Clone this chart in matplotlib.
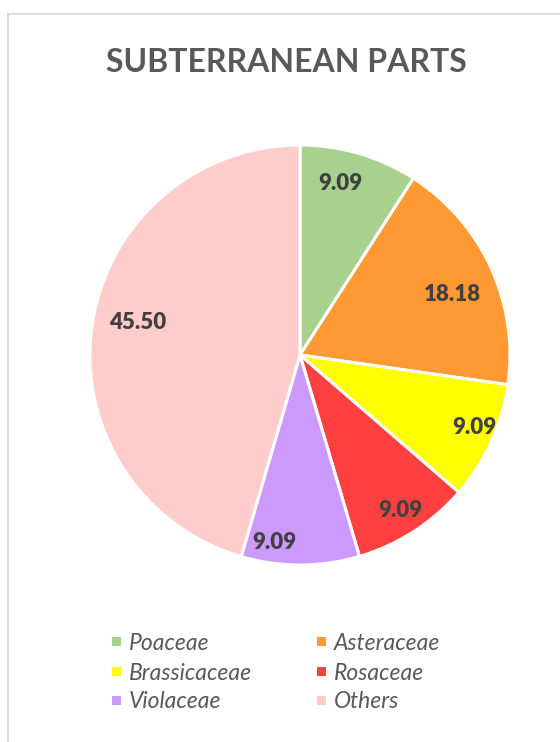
import matplotlib
matplotlib.use("Agg")
import matplotlib.pyplot as plt
from matplotlib.patches import Rectangle
from matplotlib.lines import Line2D
import numpy as np

categories = ["Poaceae", "Asteraceae", "Brassicaceae", "Rosaceae", "Violaceae", "Others"]
values = [9.09, 18.18, 9.09, 9.09, 9.09, 45.50]
value_labels = ["9.09", "18.18", "9.09", "9.09", "9.09", "45.50"]
colors = ["#A9D18E", "#FF9933", "#FFFF00", "#FF4040", "#CC99FF", "#FFCCCC"]
title = "SUBTERRANEAN PARTS"

# label radial positions (fraction of radius), styling only
label_r = [0.84, 0.78, 0.90, 0.88, 0.90, 0.79]
label_dang = [3, -3, 2, 0, -8, -3]

W, H = 560, 742
fig = plt.figure(figsize=(W / 100, H / 100), dpi=100)
fig.patch.set_facecolor("white")

# border (left and top visible)
border_c = "#D9D9D9"
fig.add_artist(Line2D([8 / W, 8 / W], [0, 1 - 13.5 / H], transform=fig.transFigure,
                      color=border_c, lw=1.3))
fig.add_artist(Line2D([8 / W, 1.0], [1 - 13.5 / H, 1 - 13.5 / H], transform=fig.transFigure,
                      color=border_c, lw=1.3))

# title
fig.text(286 / W, 1 - 72 / H, title, ha="center", va="baseline",
         fontsize=23, fontweight="bold", color="#595959", family=["Lato", "DejaVu Sans"])

# pie
cx, cy, R = 300, 355, 210
ax = fig.add_axes([(cx - R) / W, (H - cy - R) / H, 2 * R / W, 2 * R / H])
wedges, _ = ax.pie(values, colors=colors, startangle=90, counterclock=False,
                   wedgeprops=dict(edgecolor="white", linewidth=2.2))
ax.set_xlim(-1, 1)
ax.set_ylim(-1, 1)
ax.set_aspect("equal")
ax.axis("off")

for w, lab, rf, da in zip(wedges, value_labels, label_r, label_dang):
    ang = np.deg2rad((w.theta1 + w.theta2) / 2 + da)
    ax.text(rf * np.cos(ang), rf * np.sin(ang), lab, ha="center", va="center",
            fontsize=16, fontweight="heavy", color="#404040", family=["Lato", "DejaVu Sans"])

# legend (row-major, two columns)
col_x = [112, 317]
row_y = [641, 671, 700]
for i, (name, c) in enumerate(zip(categories, colors)):
    r, col = divmod(i, 2)
    x = col_x[col]
    y = row_y[r]
    fig.add_artist(Rectangle((x / W, (H - y - 4.5) / H), 9 / W, 9 / H,
                             transform=fig.transFigure, facecolor=c, edgecolor="none"))
    fig.text((x + 17) / W, 1 - y / H, name, ha="left", va="center_baseline",
             fontsize=16.5, style="italic", color="#595959", family=["Lato", "DejaVu Sans"])

fig.savefig("out.png", dpi=100, facecolor="white")
